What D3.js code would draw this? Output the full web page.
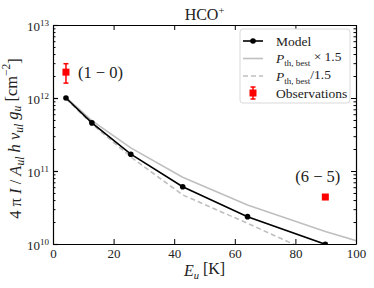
<!DOCTYPE html>
<html>
<head>
<meta charset="utf-8">
<script src="https://cdn.jsdelivr.net/npm/d3@7"></script>
<style>
  body { margin: 0; background: #fff; }
  svg text { font-family: "Liberation Serif", "DejaVu Serif", serif; fill: #222; }
</style>
</head>
<body>
<svg id="chart" width="374" height="288"></svg>
<script>
// upper level energies (K) of HCO+ transitions
const energies = [4.28, 12.84, 25.68, 42.80, 64.20, 89.88, 119.84];
const model    = [1.0e12, 4.56e11, 1.70e11, 6.08e10, 2.37e10, 9.9e9, 3.6e9];
const pthUp    = [1.02e12, 4.9e11, 2.07e11, 8.2e10, 3.42e10, 1.48e10, 6.4e9];
const pthDown  = [0.98e12, 4.4e11, 1.56e11, 4.7e10, 1.92e10, 6.3e9, 2.2e9];

const obsE     = [4.28, 89.88];
const obsVal   = [2.26e12, 4.4e10];
const obsLo    = [1.6e12, 4.2e10];
const obsHi    = [2.95e12, 4.6e10];
const obsLabel = ["(1 − 0)", "(6 − 5)"];

const xTicks = [0, 20, 40, 60, 80, 100];
const yTicks = [1e10, 1e11, 1e12, 1e13];

const margin = {left: 53, right: 18, top: 25, bottom: 44};
const W = 374, H = 288;
const svg = d3.select("#chart");

const x = d3.scaleLinear().domain([0, 100]).range([margin.left, W - margin.right]);
const y = d3.scaleLog().domain([1e10, 1e13]).range([H - margin.bottom, margin.top]);

svg.append("clipPath").attr("id", "clip")
  .append("rect")
  .attr("x", x(0)).attr("y", y(1e13))
  .attr("width", x(100) - x(0)).attr("height", y(1e10) - y(1e13));

const plot = svg.append("g").attr("clip-path", "url(#clip)");
const line = d3.line().x((d, i) => x(energies[i])).y(d => y(d));

plot.append("path").datum(pthUp)
  .attr("d", line).attr("fill", "none")
  .attr("stroke", "#bfbfbf").attr("stroke-width", 1.6);
plot.append("path").datum(pthDown)
  .attr("d", line).attr("fill", "none")
  .attr("stroke", "#bfbfbf").attr("stroke-width", 1.6)
  .attr("stroke-dasharray", "5,3");
plot.append("path").datum(model)
  .attr("d", line).attr("fill", "none")
  .attr("stroke", "#000").attr("stroke-width", 1.6);
plot.selectAll(".pt").data(model).enter().append("circle")
  .attr("cx", (d, i) => x(energies[i])).attr("cy", d => y(d))
  .attr("r", 2.8).attr("fill", "#000");

// observations
obsVal.forEach((v, i) => {
  const cx = x(obsE[i]);
  const g = svg.append("g").attr("fill", "red").attr("stroke", "red");
  g.append("line").attr("x1", cx).attr("x2", cx)
    .attr("y1", y(obsLo[i])).attr("y2", y(obsHi[i])).attr("stroke-width", 1.5);
  [obsLo[i], obsHi[i]].forEach(e => g.append("line")
    .attr("x1", cx - 2.5).attr("x2", cx + 2.5)
    .attr("y1", y(e)).attr("y2", y(e)).attr("stroke-width", 1.5));
  g.append("rect").attr("x", cx - 3.5).attr("y", y(v) - 3.5)
    .attr("width", 7).attr("height", 7).attr("stroke", "none");
});
svg.append("text").attr("x", x(obsE[0]) + 12).attr("y", y(obsVal[0]) + 5.5)
  .attr("font-size", 16.5).text(obsLabel[0]);
svg.append("text").attr("x", x(obsE[1]) + 15).attr("y", y(obsVal[1]) - 15)
  .attr("text-anchor", "end").attr("font-size", 16.5).text(obsLabel[1]);

// axes with inward ticks
function styleAxis(g) {
  g.select(".domain").attr("stroke", "#000").attr("stroke-width", 1.2);
  g.selectAll(".tick line").attr("stroke", "#000");
}
const bottomAxis = svg.append("g").attr("transform", `translate(0,${y(1e10)})`)
  .call(d3.axisBottom(x).tickValues(xTicks).tickSize(-5).tickPadding(5).tickSizeOuter(0));
bottomAxis.selectAll("text").attr("font-size", 13).attr("font-family", "Liberation Serif");
styleAxis(bottomAxis);
const topAxis = svg.append("g").attr("transform", `translate(0,${y(1e13)})`)
  .call(d3.axisTop(x).tickValues(xTicks).tickSize(-5).tickFormat("").tickSizeOuter(0));
styleAxis(topAxis);

const minorY = [];
for (let e = 10; e < 13; e++) for (let m = 2; m <= 9; m++) minorY.push(m * Math.pow(10, e));

const leftAxis = svg.append("g").attr("transform", `translate(${x(0)},0)`)
  .call(d3.axisLeft(y).tickValues(yTicks).tickSize(-5).tickPadding(4).tickSizeOuter(0)
    .tickFormat(""));
styleAxis(leftAxis);
leftAxis.selectAll(".tick line").attr("stroke-width", 1.2);
leftAxis.selectAll(".tick text").each(function(d) {
  const t = d3.select(this).attr("font-size", 13).attr("dy", "0.45em");
  t.append("tspan").text("10");
  t.append("tspan").attr("font-size", 9).attr("dy", "-0.6em").text(Math.round(Math.log10(d)));
});
svg.append("g").attr("transform", `translate(${x(0)},0)`)
  .call(d3.axisLeft(y).tickValues(minorY).tickSize(-2.5).tickFormat("").tickSizeOuter(0))
  .call(g => { g.select(".domain").remove(); g.selectAll("line").attr("stroke", "#000"); });

const rightAxis = svg.append("g").attr("transform", `translate(${x(100)},0)`)
  .call(d3.axisRight(y).tickValues(yTicks).tickSize(-5).tickFormat("").tickSizeOuter(0));
styleAxis(rightAxis);
svg.append("g").attr("transform", `translate(${x(100)},0)`)
  .call(d3.axisRight(y).tickValues(minorY).tickSize(-2.5).tickFormat("").tickSizeOuter(0))
  .call(g => { g.select(".domain").remove(); g.selectAll("line").attr("stroke", "#000"); });

// title and axis labels
const title = svg.append("text").attr("x", (x(0) + x(100)) / 2).attr("y", 20)
  .attr("text-anchor", "middle").attr("font-size", 16);
title.append("tspan").text("HCO");
title.append("tspan").attr("font-size", 10.5).attr("dy", "-0.6em").text("+");

const xl = svg.append("text").attr("x", (x(0) + x(100)) / 2).attr("y", 276)
  .attr("text-anchor", "middle").attr("font-size", 16);
xl.append("tspan").attr("font-style", "italic").text("E");
xl.append("tspan").attr("font-size", 10.5).attr("dy", "0.3em").attr("font-style", "italic").text("u");
xl.append("tspan").attr("dy", "-0.3em").text(" [K]");

const yl = svg.append("text")
  .attr("transform", `translate(21,${(y(1e10) + y(1e13)) / 2 + 4}) rotate(-90)`)
  .attr("text-anchor", "middle").attr("font-size", 16.5);
yl.append("tspan").text("4 π ");
yl.append("tspan").attr("font-style", "italic").text("I");
yl.append("tspan").text(" / ");
yl.append("tspan").attr("font-style", "italic").text("A");
yl.append("tspan").attr("font-style", "italic").attr("font-size", 11.5).attr("dy", "0.3em").text("ul");
yl.append("tspan").attr("font-style", "italic").attr("dy", "-0.3em").text(" h ν");
yl.append("tspan").attr("font-style", "italic").attr("font-size", 11.5).attr("dy", "0.3em").text("ul");
yl.append("tspan").attr("font-style", "italic").attr("dy", "-0.3em").text(" g");
yl.append("tspan").attr("font-style", "italic").attr("font-size", 11.5).attr("dy", "0.3em").text("u");
yl.append("tspan").attr("dy", "-0.3em").text(" [cm");
yl.append("tspan").attr("font-size", 11.5).attr("dy", "-0.6em").text("−2");
yl.append("tspan").attr("dy", "0.6em").text("]");

// legend
const lg = svg.append("g").attr("transform", "translate(240,29)");
lg.append("rect").attr("width", 110).attr("height", 74).attr("rx", 3)
  .attr("fill", "#fff").attr("stroke", "#d9d9d9");
const rowY = [12, 29.5, 47, 64];
lg.append("line").attr("x1", 3).attr("x2", 23).attr("y1", rowY[0]).attr("y2", rowY[0])
  .attr("stroke", "#000").attr("stroke-width", 1.6);
lg.append("circle").attr("cx", 13).attr("cy", rowY[0]).attr("r", 2.8).attr("fill", "#000");
lg.append("line").attr("x1", 3).attr("x2", 23).attr("y1", rowY[1]).attr("y2", rowY[1])
  .attr("stroke", "#bfbfbf").attr("stroke-width", 1.6);
lg.append("line").attr("x1", 3).attr("x2", 23).attr("y1", rowY[2]).attr("y2", rowY[2])
  .attr("stroke", "#bfbfbf").attr("stroke-width", 1.6).attr("stroke-dasharray", "5,3");
lg.append("line").attr("x1", 13).attr("x2", 13).attr("y1", rowY[3] - 6).attr("y2", rowY[3] + 6)
  .attr("stroke", "red").attr("stroke-width", 1.5);
[-6, 6].forEach(o => lg.append("line").attr("x1", 10.5).attr("x2", 15.5)
  .attr("y1", rowY[3] + o).attr("y2", rowY[3] + o).attr("stroke", "red").attr("stroke-width", 1.5));
lg.append("rect").attr("x", 9.5).attr("y", rowY[3] - 3.5).attr("width", 7).attr("height", 7).attr("fill", "red");

const tx = 36;
lg.append("text").attr("x", tx).attr("y", rowY[0] + 4.5).attr("font-size", 13.5).text("Model");
function pLabel(row, suffix) {
  const t = lg.append("text").attr("x", tx).attr("y", rowY[row] + 4.5).attr("font-size", 13.5);
  t.append("tspan").attr("font-style", "italic").text("P");
  t.append("tspan").attr("font-size", 9).attr("dy", "0.35em").text("th, best");
  t.append("tspan").attr("dy", "-0.35em").text(suffix);
}
pLabel(1, " × 1.5");
pLabel(2, "/1.5");
lg.append("text").attr("x", tx).attr("y", rowY[3] + 4.5).attr("font-size", 13.5).text("Observations");
</script>
</body>
</html>
